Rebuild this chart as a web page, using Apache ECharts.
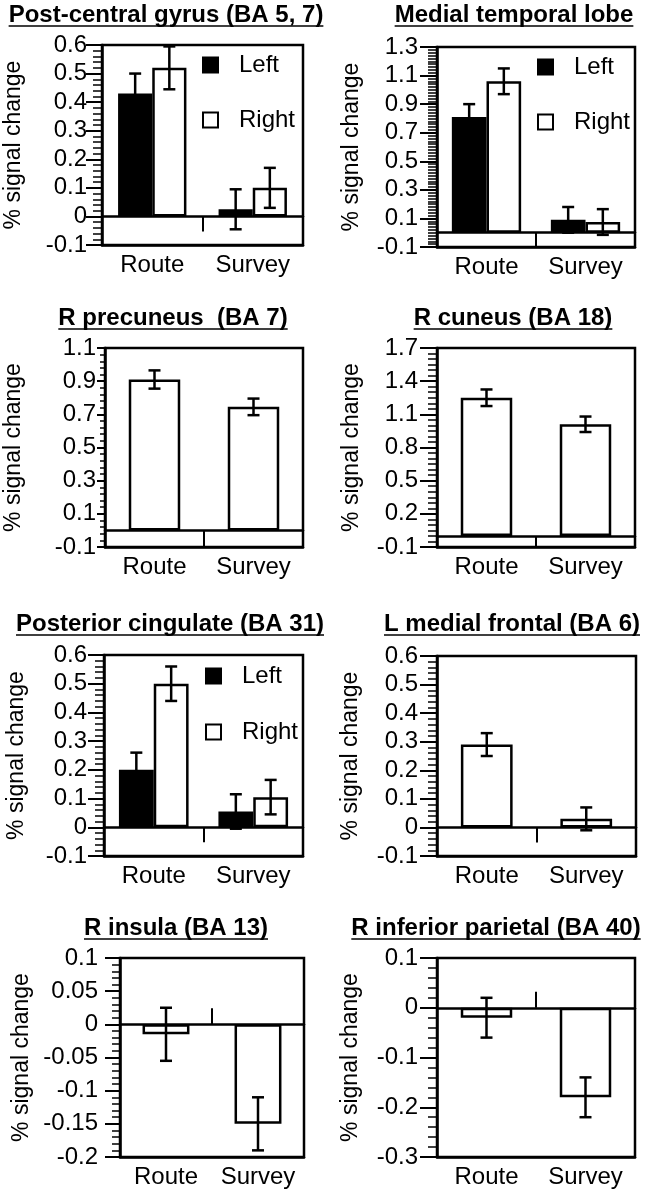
<!DOCTYPE html>
<html><head><meta charset="utf-8">
<script src="https://cdn.jsdelivr.net/npm/echarts@6/dist/echarts.min.js"></script>
<style>html,body{margin:0;padding:0;background:#fff}#c{width:651px;height:1199px}</style>
</head><body><div id="c"></div>
<script>
// ---------- DATA ----------
const categories = ['Route', 'Survey'];
const legendNames = ['Left', 'Right'];
const yAxisName = '% signal change';
const titles = [
  'Post-central gyrus (BA 5, 7)', 'Medial temporal lobe',
  'R precuneus  (BA 7)', 'R cuneus (BA 18)',
  'Posterior cingulate (BA 31)', 'L medial frontal (BA 6)',
  'R insula (BA 13)', 'R inferior parietal (BA 40)'
];
// Post-central gyrus
const postcentralLeft = [0.43, 0.025];
const postcentralLeftErr = [0.07, 0.07];
const postcentralRight = [0.52, 0.10];
const postcentralRightErr = [0.075, 0.07];
// Medial temporal lobe
const mtlLeft = [0.81, 0.09];
const mtlLeftErr = [0.09, 0.09];
const mtlRight = [1.06, 0.075];
const mtlRightErr = [0.09, 0.09];
// R precuneus
const precuneus = [0.91, 0.745];
const precuneusErr = [0.055, 0.05];
// R cuneus
const cuneus = [1.25, 1.01];
const cuneusErr = [0.075, 0.07];
// Posterior cingulate
const cingLeft = [0.20, 0.055];
const cingLeftErr = [0.06, 0.06];
const cingRight = [0.50, 0.105];
const cingRightErr = [0.06, 0.06];
// L medial frontal
const medFrontal = [0.29, 0.03];
const medFrontalErr = [0.04, 0.04];
// R insula
const insula = [-0.015, -0.15];
const insulaErr = [0.04, 0.04];
// R inferior parietal
const infParietal = [-0.02, -0.18];
const infParietalErr = [0.04, 0.04];

// ---------- LAYOUT ----------
const FONT = 'Liberation Sans, Arial, Helvetica, sans-serif';
const LABEL_SIZE = 24;
const panels = [
  {grid:{left:102,top:45,width:201,height:200}, y:[-0.1,0.6,0.1], minor:5, majLen:16, margin:15, nameGap:77, zeroTick:15, inside:false,
   groups:[[postcentralLeft,postcentralLeftErr],[postcentralRight,postcentralRightErr]], barW:0.34, legend:{left:197,top:48,gap:31}, title:[166,15]},
  {grid:{left:437,top:47,width:198,height:200}, y:[-0.1,1.3,0.2], minor:10, majLen:17, margin:19, nameGap:74, zeroTick:14, inside:false,
   groups:[[mtlLeft,mtlLeftErr],[mtlRight,mtlRightErr]], barW:0.35, legend:{left:532,top:50,gap:31}, title:[514,15]},
  {grid:{left:105,top:348,width:198,height:199}, y:[-0.1,1.1,0.2], minor:5, majLen:8, margin:9, nameGap:80, zeroTick:17, inside:false,
   groups:[[precuneus,precuneusErr]], barW:0.52, title:[173,318]},
  {grid:{left:437,top:348,width:198,height:199}, y:[-0.1,1.7,0.3], minor:6, majLen:17, margin:19, nameGap:74, zeroTick:11, inside:false,
   groups:[[cuneus,cuneusErr]], barW:0.52, title:[513,318]},
  {grid:{left:104,top:655,width:199,height:201}, y:[-0.1,0.6,0.1], minor:5, majLen:16, margin:17, nameGap:76, zeroTick:15, inside:false,
   groups:[[cingLeft,cingLeftErr],[cingRight,cingRightErr]], barW:0.35, legend:{left:200,top:659,gap:32}, title:[170,624]},
  {grid:{left:437,top:656,width:199,height:200}, y:[-0.1,0.6,0.1], minor:5, majLen:17, margin:19, nameGap:75, zeroTick:15, inside:false,
   groups:[[medFrontal,medFrontalErr]], barW:0.52, title:[512,624]},
  {grid:{left:120,top:958,width:184,height:199}, y:[-0.2,0.1,0.05], minor:5, majLen:15, margin:22, nameGap:87, zeroTick:16, inside:true,
   groups:[[insula,insulaErr]], barW:0.51, title:[176,928]},
  {grid:{left:437,top:958,width:198,height:199}, y:[-0.3,0.1,0.1], minor:5, majLen:17, margin:19, nameGap:75, zeroTick:16, inside:true,
   groups:[[infParietal,infParietalErr]], barW:0.52, title:[496,928]}
];

function errRender(frac, sign) {
  return function (params, api) {
    const ci = api.value(0), v = api.value(1), e = api.value(2);
    const band = api.size([1, 0])[0];
    const off = sign * band * frac / 2;
    const top = api.coord([ci, v + e]);
    const bot = api.coord([ci, v - e]);
    const x = top[0] + off, hw = 6;
    const st = {stroke: '#000', lineWidth: 2.5};
    return {type: 'group', children: [
      {type: 'line', shape: {x1: x, y1: top[1], x2: x, y2: bot[1]}, style: st},
      {type: 'line', shape: {x1: x - hw, y1: top[1], x2: x + hw, y2: top[1]}, style: st},
      {type: 'line', shape: {x1: x - hw, y1: bot[1], x2: x + hw, y2: bot[1]}, style: st}
    ]};
  };
}

const grid = [], xAxis = [], yAxis = [], series = [], legend = [], graphic = [];
const mctx = document.createElement('canvas').getContext('2d');
const titleFont = 'bold 24px ' + FONT;
mctx.font = titleFont;

panels.forEach((p, i) => {
  grid.push(Object.assign({show: true, borderColor: '#000', borderWidth: 2.5, backgroundColor: '#fff', outerBoundsMode: 'none', containLabel: false}, p.grid));
  xAxis.push({type: 'category', gridIndex: i, data: categories, position: 'bottom',
    axisLine: {show: true, onZero: false, lineStyle: {color: '#000', width: 2.5}},
    axisTick: {show: false},
    axisLabel: {color: '#000', fontSize: LABEL_SIZE, fontFamily: FONT, margin: 8, interval: 0, hideOverlap: false}});
  xAxis.push({type: 'category', gridIndex: i, data: categories, position: 'bottom',
    axisLine: {show: true, onZero: true, lineStyle: {color: '#000', width: 2.5}},
    axisTick: {show: true, inside: p.inside, length: p.zeroTick, lineStyle: {color: '#000', width: 2}},
    axisLabel: {show: false}, splitLine: {show: false}});
  // main value axis (labels + major ticks)
  yAxis.push({type: 'value', gridIndex: i, position: 'left', min: p.y[0], max: p.y[1], interval: p.y[2],
    name: yAxisName, nameLocation: 'middle', nameRotate: 90, nameGap: p.nameGap,
    nameTextStyle: {color: '#000', fontSize: 23, fontFamily: FONT},
    axisLine: {show: true, lineStyle: {color: '#000', width: 2.5}},
    axisTick: {show: true, length: p.majLen, lineStyle: {color: '#000', width: 2}},
    splitLine: {show: false},
    axisLabel: {color: '#000', fontSize: LABEL_SIZE, fontFamily: FONT, margin: p.margin}});
  // minor tick axis (same scale, finer interval)
  yAxis.push({type: 'value', gridIndex: i, position: 'left', min: p.y[0], max: p.y[1], interval: p.y[2] / p.minor,
    axisLine: {show: false},
    axisTick: {show: true, length: Math.max(5, Math.round(p.majLen * 0.55)), lineStyle: {color: '#000', width: 1.5}},
    axisLabel: {show: false}, splitLine: {show: false}});
  const two = p.groups.length === 2;
  p.groups.forEach((g, k) => {
    const name = two ? legendNames[k] : 'Signal';
    const dark = two && k === 0;
    series.push({type: 'bar', name: name, xAxisIndex: 2 * i, yAxisIndex: 2 * i,
      data: g[0], barWidth: (p.barW * 100) + '%', barGap: '0%',
      itemStyle: {color: dark ? '#000' : '#fff', borderColor: '#000', borderWidth: 2.5},
      emphasis: {disabled: true}, animation: false, z: 2});
    series.push({type: 'custom', name: name + ' error', xAxisIndex: 2 * i, yAxisIndex: 2 * i,
      data: g[0].map((v, j) => [j, v, g[1][j]]),
      encode: {x: 0, y: 1}, renderItem: errRender(p.barW, two ? (k === 0 ? -1 : 1) : 0),
      z: 5, animation: false, silent: true});
  });
  if (p.legend) {
    legend.push({left: p.legend.left, top: p.legend.top, orient: 'vertical', itemGap: p.legend.gap,
      itemWidth: 15, itemHeight: 15, icon: 'rect', data: legendNames, selectedMode: false,
      textStyle: {color: '#000', fontSize: LABEL_SIZE, fontFamily: FONT, padding: [0, 0, 0, 16]}});
  }
  const t = titles[i];
  const w = mctx.measureText(t).width;
  graphic.push({type: 'text', x: p.title[0], y: p.title[1],
    style: {text: t, font: titleFont, fill: '#000', align: 'center', verticalAlign: 'middle'}});
  graphic.push({type: 'line', shape: {x1: p.title[0] - w / 2, y1: p.title[1] + 11, x2: p.title[0] + w / 2, y2: p.title[1] + 11},
    style: {stroke: '#000', lineWidth: 1.5}});
});

const chart = echarts.init(document.getElementById('c'), null, {renderer: 'canvas'});
chart.setOption({animation: false, backgroundColor: '#fff', grid, xAxis, yAxis, series, legend, graphic});
</script></body></html>
